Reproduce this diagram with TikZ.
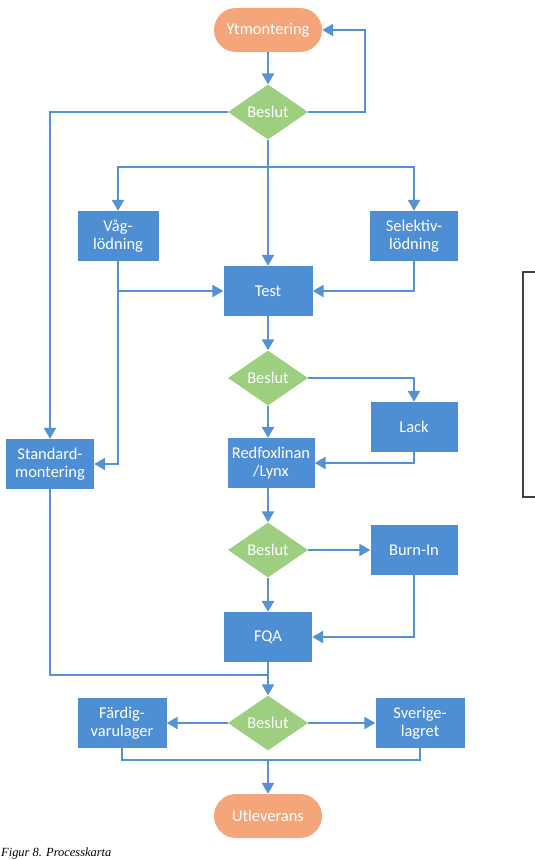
\documentclass[tikz,border=0pt]{standalone}
\usepackage{fontspec}
\setmainfont{Carlito}
\newfontfamily\capfont{Liberation Serif}
\usepackage{tikz}
\usetikzlibrary{arrows.meta,shapes.geometric}
\definecolor{boxblue}{RGB}{78,142,212}
\definecolor{lineblue}{RGB}{84,146,214}
\definecolor{beslutgreen}{RGB}{158,206,128}
\definecolor{terminorange}{RGB}{244,166,122}

\begin{document}
\begin{tikzpicture}[x=1bp,y=-1bp,
  proc/.style={rectangle,fill=boxblue,text=white,align=center,inner sep=0pt,
    minimum width=88bp,minimum height=50bp,font=\fontsize{16.5}{18.5}\selectfont},
  beslut/.style={diamond,aspect=1.45,fill=beslutgreen,text=white,inner sep=0pt,
    minimum width=80bp,minimum height=55bp,font=\fontsize{16.5}{18.5}\selectfont},
  termin/.style={rectangle,rounded corners=22bp,fill=terminorange,text=white,inner sep=0pt,
    minimum width=108bp,minimum height=44bp,font=\fontsize{16.5}{18.5}\selectfont},
  line/.style={draw=lineblue,line width=2.4bp},
  arr/.style={line,-{Triangle[length=11bp,width=12bp]}}]
\useasboundingbox (0,0) rectangle (535,860);

% nodes
\node[termin] (ytm) at (268,30) {Ytmontering};
\node[beslut] (b1) at (268,112) {Beslut};
\node[proc,minimum width=81bp] (vag) at (118,236) {Våg-\\lödning};
\node[proc] (sel) at (414,236) {Selektiv-\\lödning};
\node[proc,minimum width=89bp] (test) at (268,291) {Test};
\node[beslut] (b2) at (268,378) {Beslut};
\node[proc,minimum width=87bp] (lack) at (414,427) {Lack};
\node[proc,minimum width=87bp] (red) at (271,463) {Redfoxlinan\\/Lynx};
\node[proc] (std) at (50,464) {Standard-\\montering};
\node[beslut] (b3) at (268,550) {Beslut};
\node[proc,minimum width=87bp] (burn) at (414,550) {Burn-In};
\node[proc] (fqa) at (268,637) {FQA};
\node[beslut] (b4) at (268,723) {Beslut};
\node[proc,minimum width=89bp] (fard) at (122,723) {Färdig-\\varulager};
\node[proc,minimum width=89bp] (sve) at (420,723) {Sverige-\\lagret};
\node[termin] (utl) at (268,816) {Utleverans};

\coordinate (loop) at (365,30);
\coordinate (split) at (268,167);
\coordinate (join) at (268,675);
\coordinate (merge) at (268,760);

% connectors
\draw[arr] (ytm) -- (b1);
\draw[arr] (b1.east) -| (loop) -- (ytm.east);
\draw[arr] (b1.west) -| (std.north);
\draw[arr] (b1) -- (test);
\draw[arr] (split) -| (vag.north);
\draw[arr] (split) -| (sel.north);
\draw[arr] (vag.south) |- (test.west);
\draw[arr] (vag.south) |- (std.east);
\draw[arr] (sel.south) |- (test.east);
\draw[arr] (test) -- (b2);
\draw[arr] (b2.east) -| (lack.north);
\draw[arr] (b2.south) -- (b2.south |- red.north);
\draw[arr] (lack.south) |- (red.east);
\draw[arr] (b3.north |- red.south) -- (b3.north);
\draw[arr] (b3) -- (burn);
\draw[arr] (b3) -- (fqa);
\draw[arr] (burn.south) |- (fqa.east);
\draw[line] (std.south) |- (join);
\draw[arr] (fqa) -- (b4);
\draw[arr] (b4) -- (fard);
\draw[arr] (b4) -- (sve);
\draw[line] (fard.south) |- (merge) -| (sve.south);
\draw[arr] (merge) -- (utl);

% side frame and caption
\draw[black!75,line width=1.4bp] (545,272) -- (523,272) -- (523,497) -- (545,497);
\node[anchor=base west,inner sep=0pt,font=\capfont\itshape\fontsize{12.5}{14}\selectfont] (cap) at (1,856) {Figur 8. Processkarta};
\end{tikzpicture}
\end{document}
